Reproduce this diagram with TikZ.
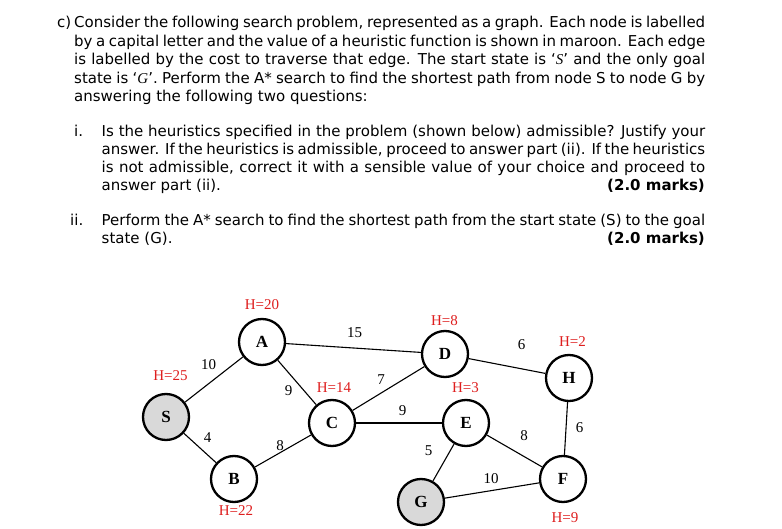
\documentclass[tikz,border=0pt]{standalone}
\usepackage{fontspec}
\setmainfont{DejaVu Sans}
\newfontfamily\tnr{Liberation Serif}
\definecolor{hred}{RGB}{222,30,30}
\definecolor{nodegray}{RGB}{217,217,217}
\newcommand\jline[2]{\hbox to #1{#2}}
\newcommand\qs[1]{‘{\tnr\itshape #1}’}
\begin{document}
\begin{tikzpicture}[x=1pt,y=-1pt,
  txt/.style={anchor=base west,inner sep=0pt,font=\fontsize{15}{18}\selectfont},
  txtr/.style={anchor=base east,inner sep=0pt,font=\fontsize{15}{18}\selectfont\bfseries},
  gnode/.style={circle,draw,line width=2.3pt,minimum size=46pt,inner sep=0pt,fill=white,font=\tnr\fontsize{17}{17}\selectfont\bfseries},
  snode/.style={gnode,fill=nodegray},
  hlab/.style={inner sep=0pt,text=hred,font=\tnr\fontsize{15}{15}\selectfont},
  elab/.style={inner sep=0pt,font=\tnr\fontsize{15}{15}\selectfont},
  edge/.style={line width=1.1pt}]
\useasboundingbox (0,0) rectangle (782,529);
% text
\node[txt] (cl) at (57,28) {c)};
\node[txt] (c1) at (74,28) {\jline{631pt}{Consider the following search problem, represented as a graph. Each node is labelled}};
\node[txt] (c2) at (74,46.5) {\jline{631pt}{by a capital letter and the value of a heuristic function is shown in maroon. Each edge}};
\node[txt] (c3) at (74,65) {\jline{631pt}{is labelled by the cost to traverse that edge. The start state is \qs{S} and the only goal}};
\node[txt] (c4) at (74,83.5) {\jline{631pt}{state is \qs{G}. Perform the A* search to find the shortest path from node S to node G by}};
\node[txt] (c5) at (74,102) {answering the following two questions:};
\node[txt] (il) at (74,136.5) {i.};
\node[txt] (i1) at (101.5,136.5) {\jline{603.5pt}{Is the heuristics specified in the problem (shown below) admissible? Justify your}};
\node[txt] (i2) at (101.5,154.5) {\jline{603.5pt}{answer. If the heuristics is admissible, proceed to answer part (ii). If the heuristics}};
\node[txt] (i3) at (101.5,172.5) {\jline{603.5pt}{is not admissible, correct it with a sensible value of your choice and proceed to}};
\node[txt] (i4) at (101.5,190.5) {answer part (ii).};
\node[txtr] (im) at (705,190.5) {(2.0 marks)};
\node[txt] (iil) at (70,226) {ii.};
\node[txt] (ii1) at (101.5,226) {\jline{603.5pt}{Perform the A* search to find the shortest path from the start state (S) to the goal}};
\node[txt] (ii2) at (101.5,244) {state (G).};
\node[txtr] (iim) at (705,244) {(2.0 marks)};
% graph
\node[snode] (S) at (166,417) {S};
\node[gnode] (A) at (262,342) {A};
\node[gnode] (B) at (234,479) {B};
\node[gnode] (C) at (332,423) {C};
\node[gnode] (D) at (445,354) {D};
\node[gnode] (E) at (466,423) {E};
\node[gnode] (F) at (563,479) {F};
\node[snode] (G) at (421,502) {G};
\node[gnode] (H) at (569,378) {H};
\begin{scope}[on background layer/.try]
\end{scope}
\draw[edge] (S) -- (A);
\draw[edge] (S) -- (B);
\draw[edge] (A) -- (C);
\draw[edge] (A) -- (D);
\draw[edge] (B) -- (C);
\draw[edge] (C) -- (D);
\draw[edge] (C) -- (E);
\draw[edge] (D) -- (H);
\draw[edge] (E) -- (G);
\draw[edge] (E) -- (F);
\draw[edge] (G) -- (F);
\draw[edge] (H) -- (F);
% heuristic labels
\node[hlab] (hA) at (262,305) {H=20};
\node[hlab] (hS) at (170.5,376) {H=25};
\node[hlab] (hB) at (236,511) {H=22};
\node[hlab] (hC) at (334,387.5) {H=14};
\node[hlab] (hD) at (444.5,321) {H=8};
\node[hlab] (hE) at (465.5,387.5) {H=3};
\node[hlab] (hH) at (572.5,341.5) {H=2};
\node[hlab] (hF) at (565,517.5) {H=9};
% edge labels
\node[elab] (eSA) at (208.5,365) {10};
\node[elab] (eSB) at (207.5,438) {4};
\node[elab] (eAC) at (288.5,391) {9};
\node[elab] (eBC) at (280,445.5) {8};
\node[elab] (eAD) at (354.5,333) {15};
\node[elab] (eCD) at (381,380) {7};
\node[elab] (eCE) at (402.5,410.5) {9};
\node[elab] (eEG) at (428.5,450.5) {5};
\node[elab] (eEF) at (524,435.5) {8};
\node[elab] (eGF) at (491,479) {10};
\node[elab] (eDH) at (521.5,345) {6};
\node[elab] (eHF) at (579.5,427.5) {6};
\end{tikzpicture}
\end{document}
